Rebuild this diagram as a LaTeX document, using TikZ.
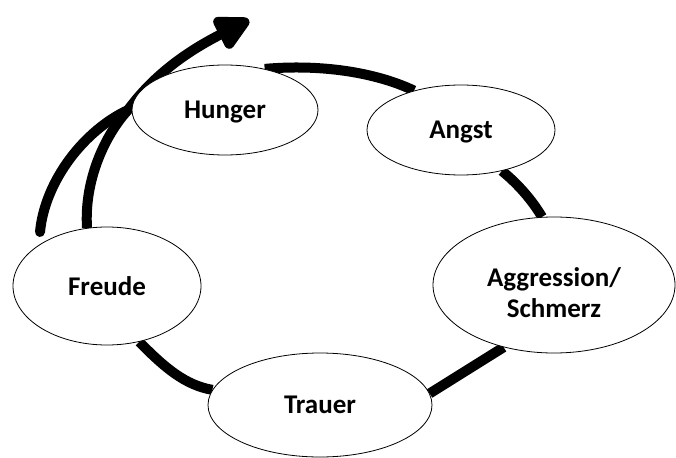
\documentclass[tikz,border=0pt]{standalone}
\usepackage{fontspec}
\setmainfont{Carlito}
\usetikzlibrary{
    arrows.meta,
    shapes.geometric,
    backgrounds,
    positioning
}
\tikzset{emo/.style={ellipse, draw=black, line width=0.8pt, fill=white, inner sep=0pt, text depth=0pt, align=center, font=\fontsize{27}{31}\selectfont\bfseries}}
\tikzset{lnk/.style={line width=10pt, draw=black}}

\begin{document}
\begin{tikzpicture}[x=1pt, y=-1pt]
    \useasboundingbox (0,0) rectangle (676,457);

    \node[emo, minimum width=186pt, minimum height=90pt] (hunger) at (225,110) {Hunger};
    \node[emo, minimum width=188pt, minimum height=90pt] (angst) at (461,130) {Angst};
    \node[emo, minimum width=242pt, minimum height=136pt] (aggr) at (554,285) {\rule{0pt}{34pt}Aggression/\\Schmerz};
    \node[emo, minimum width=224pt, minimum height=104pt] (trauer) at (320,405) {Trauer};
    \node[emo, minimum width=188pt, minimum height=118pt] (freude) at (107,286) {Freude};

    \coordinate (fork) at (128,110);
    \coordinate (loose) at (40,232);
    \coordinate (tip) at (249,20);

    \begin{pgfonlayer}{background}
        \draw[lnk] (hunger.46) .. controls (320,64) and (375,72) .. (angst.140);
        \draw[lnk] (angst.-45) .. controls (518,184) and (532,200) .. (aggr.100);
        \draw[lnk] (aggr.231) -- (trauer.6);
        \draw[lnk] (freude.-60) .. controls (165,368) and (185,385) .. (trauer.172);
        \draw[lnk] (freude.109) .. controls (84,180) and (105,135) .. (fork);
        \draw[lnk, line cap=round] (loose) .. controls (45,180) and (85,130) .. (fork);
        \draw[lnk, -{Triangle[length=40pt, width=38pt, round]}] (fork) .. controls (150,80) and (180,55) .. (tip);
    \end{pgfonlayer}
\end{tikzpicture}
\end{document}
